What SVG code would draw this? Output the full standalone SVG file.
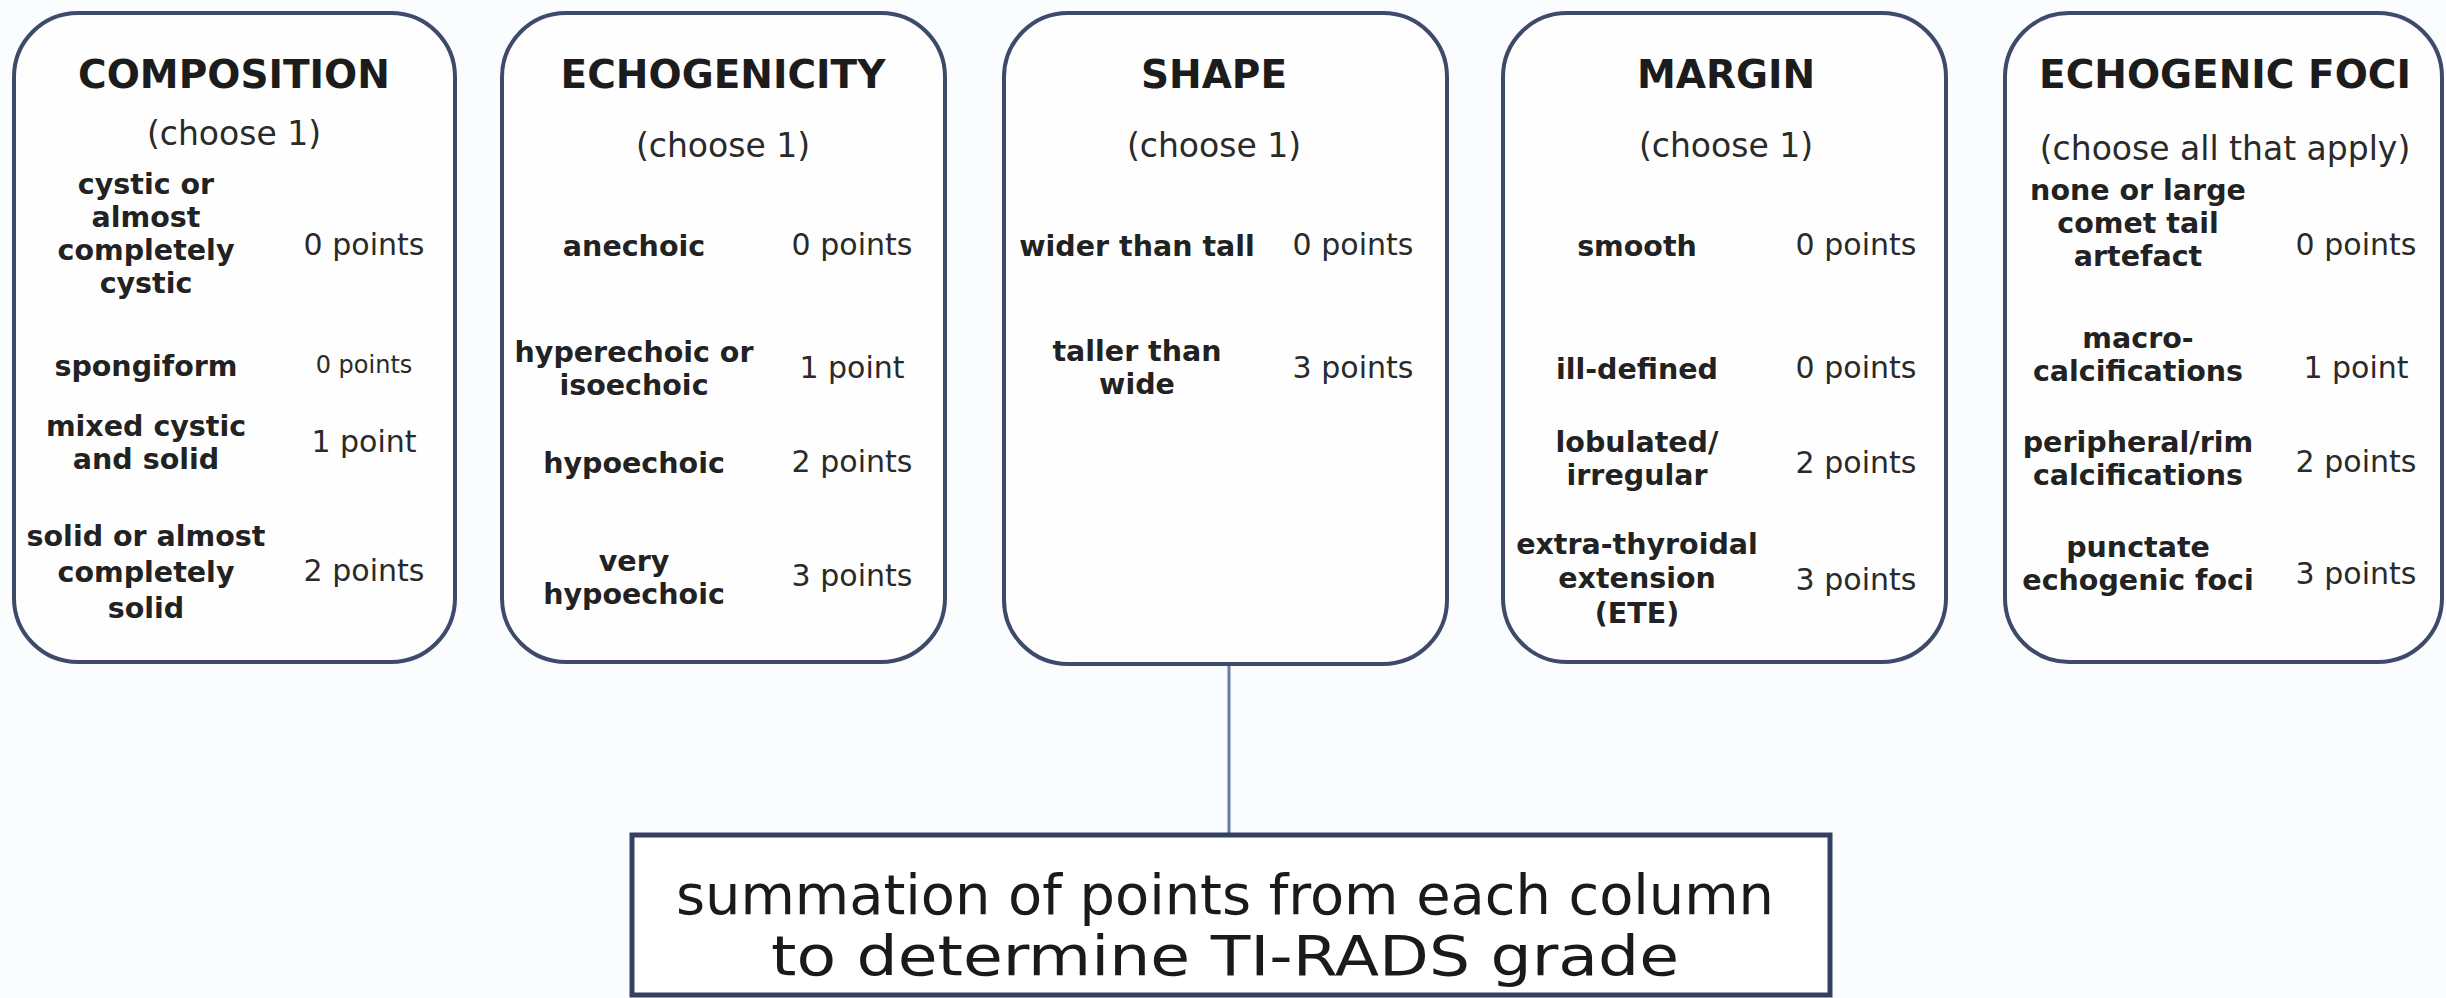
<svg xmlns="http://www.w3.org/2000/svg" width="2446" height="998" viewBox="0 0 2446 998">
<style>
  .box { fill: #fefefe; stroke: #3d4a6a; stroke-width: 4; }
  .sum { fill: #ffffff; stroke: #34405f; stroke-width: 5; }
  .conn { stroke: #6a7ca2; stroke-width: 3; fill: none; }
  text { font-family: "DejaVu Sans", Verdana, sans-serif; fill: #1c1c1c; text-anchor: middle; }
  .h { font-size: 39px; font-weight: bold; }
  .c { font-size: 33px; fill: #2a2a2a; }
  .l { font-size: 28.5px; font-weight: bold; fill: #222; }
  .p { font-size: 30px; fill: #2a2a2a; }
  .ps { font-size: 24px; fill: #2a2a2a; }
  .s { font-family: "DejaVu Sans Condensed", "DejaVu Sans", sans-serif; font-stretch: condensed; font-size: 56px; fill: #1a1a1a; }
</style>
<rect x="0" y="0" width="2446" height="998" fill="#fafcfd"/>

<g id="connectors">
  <line class="conn" x1="1229" y1="664" x2="1229" y2="835"/>
</g>

<g id="composition">
  <rect class="box" x="14" y="13" width="441" height="649" rx="64" ry="64"/>
  <text class="h" x="234" y="88">COMPOSITION</text>
  <text class="c" x="234" y="145">(choose 1)</text>
  <text class="l" x="146" y="194">cystic or</text>
  <text class="l" x="146" y="227">almost</text>
  <text class="l" x="146" y="260">completely</text>
  <text class="l" x="146" y="293">cystic</text>
  <text class="p" x="364" y="255">0 points</text>
  <text class="l" x="146" y="376">spongiform</text>
  <text class="ps" x="364" y="373">0 points</text>
  <text class="l" x="146" y="436">mixed cystic</text>
  <text class="l" x="146" y="469">and solid</text>
  <text class="p" x="364" y="452">1 point</text>
  <text class="l" x="146" y="546">solid or almost</text>
  <text class="l" x="146" y="582">completely</text>
  <text class="l" x="146" y="618">solid</text>
  <text class="p" x="364" y="581">2 points</text>
</g>

<g id="echogenicity">
  <rect class="box" x="502" y="13" width="443" height="649" rx="64" ry="64"/>
  <text class="h" x="723" y="88">ECHOGENICITY</text>
  <text class="c" x="723" y="157">(choose 1)</text>
  <text class="l" x="634" y="256">anechoic</text>
  <text class="p" x="852" y="255">0 points</text>
  <text class="l" x="634" y="362">hyperechoic or</text>
  <text class="l" x="634" y="395">isoechoic</text>
  <text class="p" x="852" y="378">1 point</text>
  <text class="l" x="634" y="473">hypoechoic</text>
  <text class="p" x="852" y="472">2 points</text>
  <text class="l" x="634" y="571">very</text>
  <text class="l" x="634" y="604">hypoechoic</text>
  <text class="p" x="852" y="586">3 points</text>
</g>

<g id="shape">
  <rect class="box" x="1004" y="13" width="443" height="651" rx="64" ry="64"/>
  <text class="h" x="1214" y="88">SHAPE</text>
  <text class="c" x="1214" y="157">(choose 1)</text>
  <text class="l" x="1137" y="256">wider than tall</text>
  <text class="p" x="1353" y="255">0 points</text>
  <text class="l" x="1137" y="361">taller than</text>
  <text class="l" x="1137" y="394">wide</text>
  <text class="p" x="1353" y="378">3 points</text>
</g>

<g id="margin">
  <rect class="box" x="1503" y="13" width="443" height="649" rx="64" ry="64"/>
  <text class="h" x="1726" y="88">MARGIN</text>
  <text class="c" x="1726" y="157">(choose 1)</text>
  <text class="l" x="1637" y="256">smooth</text>
  <text class="p" x="1856" y="255">0 points</text>
  <text class="l" x="1637" y="379">ill-defined</text>
  <text class="p" x="1856" y="378">0 points</text>
  <text class="l" x="1637" y="452">lobulated/</text>
  <text class="l" x="1637" y="485">irregular</text>
  <text class="p" x="1856" y="473">2 points</text>
  <text class="l" x="1637" y="554">extra-thyroidal</text>
  <text class="l" x="1637" y="588">extension</text>
  <text class="l" x="1637" y="623">(ETE)</text>
  <text class="p" x="1856" y="590">3 points</text>
</g>

<g id="echogenic-foci">
  <rect class="box" x="2005" y="13" width="437" height="649" rx="64" ry="64"/>
  <text class="h" x="2225" y="88">ECHOGENIC FOCI</text>
  <text class="c" x="2225" y="160">(choose all that apply)</text>
  <text class="l" x="2138" y="200">none or large</text>
  <text class="l" x="2138" y="233">comet tail</text>
  <text class="l" x="2138" y="266">artefact</text>
  <text class="p" x="2356" y="255">0 points</text>
  <text class="l" x="2138" y="348">macro-</text>
  <text class="l" x="2138" y="381">calcifications</text>
  <text class="p" x="2356" y="378">1 point</text>
  <text class="l" x="2138" y="452">peripheral/rim</text>
  <text class="l" x="2138" y="485">calcifications</text>
  <text class="p" x="2356" y="472">2 points</text>
  <text class="l" x="2138" y="557">punctate</text>
  <text class="l" x="2138" y="590">echogenic foci</text>
  <text class="p" x="2356" y="584">3 points</text>
</g>

<g id="summation">
  <rect class="sum" x="632" y="835" width="1198" height="160"/>
  <text class="s" x="1225" y="914" textLength="1098" lengthAdjust="spacingAndGlyphs">summation of points from each column</text>
  <text class="s" x="1225" y="975" textLength="908" lengthAdjust="spacingAndGlyphs">to determine TI-RADS grade</text>
</g>
</svg>
